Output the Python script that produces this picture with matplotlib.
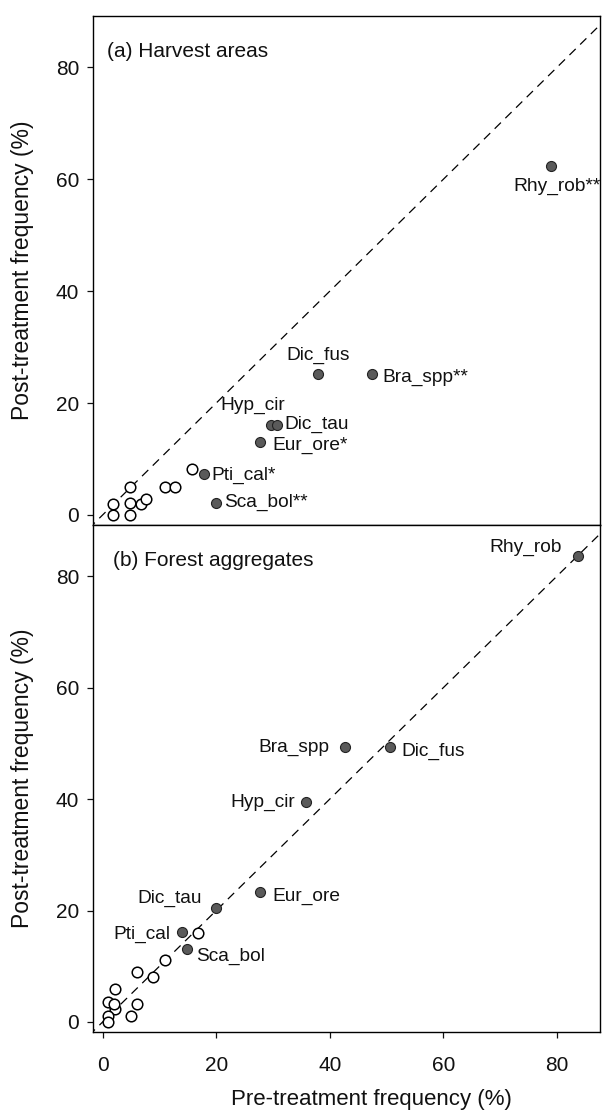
import matplotlib
matplotlib.use("Agg")
import matplotlib.pyplot as plt

plt.rcParams['font.family'] = ['Liberation Sans', 'DejaVu Sans']

# ---------------- data ----------------
# Panel (a) Harvest areas
a_names = ["Rhy_rob**", "Dic_fus", "Bra_spp**", "Hyp_cir", "Dic_tau", "Eur_ore*", "Pti_cal*", "Sca_bol**"]
a_pre = [79, 38, 47.5, 29.7, 30.7, 27.8, 17.9, 19.9]
a_post = [62.3, 25.2, 25.2, 16.1, 16.1, 13.1, 7.3, 2.2]
a_open_pre = [1.9, 1.9, 4.8, 4.8, 4.9, 6.7, 7.6, 10.9, 12.7, 15.7]
a_open_post = [0, 2.0, 0, 2.2, 5.0, 2.0, 2.9, 5.0, 5.0, 8.2]

# Panel (b) Forest aggregates
b_names = ["Rhy_rob", "Bra_spp", "Dic_fus", "Hyp_cir", "Eur_ore", "Dic_tau", "Pti_cal", "Sca_bol"]
b_pre = [83.8, 42.7, 50.6, 35.8, 27.8, 19.9, 13.9, 14.8]
b_post = [83.7, 49.3, 49.4, 39.4, 23.3, 20.5, 16.2, 13.1]
b_open_pre = [16.8, 11.0, 6.1, 8.9, 2.1, 6.1, 5.0, 1.0, 2.1, 1.0, 1.0, 2.0]
b_open_post = [16.0, 11.1, 9.0, 8.1, 6.0, 3.2, 1.1, 3.5, 2.3, 1.1, 0.0, 3.3]

ticks = [0, 20, 40, 60, 80]
tick_labels = ["0", "20", "40", "60", "80"]

# label placement (offset in pixels, ha, va)
a_place = [((6, -20), 'center', 'center'),
           ((0, 19), 'center', 'center'),
           ((10, -3), 'left', 'center'),
           ((-19, 19), 'center', 'center'),
           ((7, 0), 'left', 'center'),
           ((12, -4), 'left', 'center'),
           ((7, -1), 'left', 'center'),
           ((8, 0), 'left', 'center')]
b_place = [((-17, 8), 'right', 'center'),
           ((-16, 0), 'right', 'center'),
           ((11, -5), 'left', 'center'),
           ((-11, 0), 'right', 'center'),
           ((12, -4), 'left', 'center'),
           ((-14, 9), 'right', 'center'),
           ((-11, -3), 'right', 'center'),
           ((9, -7), 'left', 'center')]

W, H = 602, 1117
fig = plt.figure(figsize=(W / 100, H / 100), dpi=100)
left = 93 / W
width = 507 / W
axA = fig.add_axes([left, 1 - 525 / H, width, 509 / H])
axB = fig.add_axes([left, 1 - 1032 / H, width, 507 / H])

fill_col = '#5a5a5a'

def draw(ax, pre, post, names, place, opre, opost, title, tx):
    ax.plot([-10, 100], [-10, 100], linestyle=(0, (7, 5)), color='black', lw=0.9, zorder=1)
    ax.scatter(opre, opost, s=58, facecolor='white', edgecolor='black', linewidths=1.1, zorder=3)
    ax.scatter(pre, post, s=52, facecolor=fill_col, edgecolor='#222222', linewidths=0.8, zorder=4)
    for n, x, y, (off, ha, va) in zip(names, pre, post, place):
        ax.annotate(n, (x, y), xytext=off, textcoords='offset pixels',
                    ha=ha, va=va, fontsize=13.8, color='#111111', zorder=5)
    ax.text(tx, 0.93, title, transform=ax.transAxes, fontsize=15, ha='left', va='center', color='#111111')
    ax.set_xlim(-1.7, 87.6)
    ax.set_ylim(-1.8, 89.2)
    ax.set_xticks(ticks)
    ax.set_yticks(ticks)
    ax.set_yticklabels(tick_labels, fontsize=15)
    ax.tick_params(direction='out', length=4, width=0.9, pad=6, colors='#111111')
    for s in ax.spines.values():
        s.set_linewidth(1.0)
    ax.set_ylabel("Post-treatment frequency (%)", fontsize=16.5, color='#111111')
    ax.yaxis.set_label_coords(-0.117, 0.5)

draw(axA, a_pre, a_post, a_names, a_place, a_open_pre, a_open_post, "(a) Harvest areas", 0.027)
draw(axB, b_pre, b_post, b_names, b_place, b_open_pre, b_open_post, "(b) Forest aggregates", 0.04)
axA.set_xticklabels([])
axB.set_xticklabels(tick_labels, fontsize=15)
axB.tick_params(axis='x', pad=13)
axB.set_xlabel("Pre-treatment frequency (%)", fontsize=16, color='#111111')
axB.xaxis.set_label_coords(0.55, -0.113)

fig.savefig("out.png", dpi=100)
